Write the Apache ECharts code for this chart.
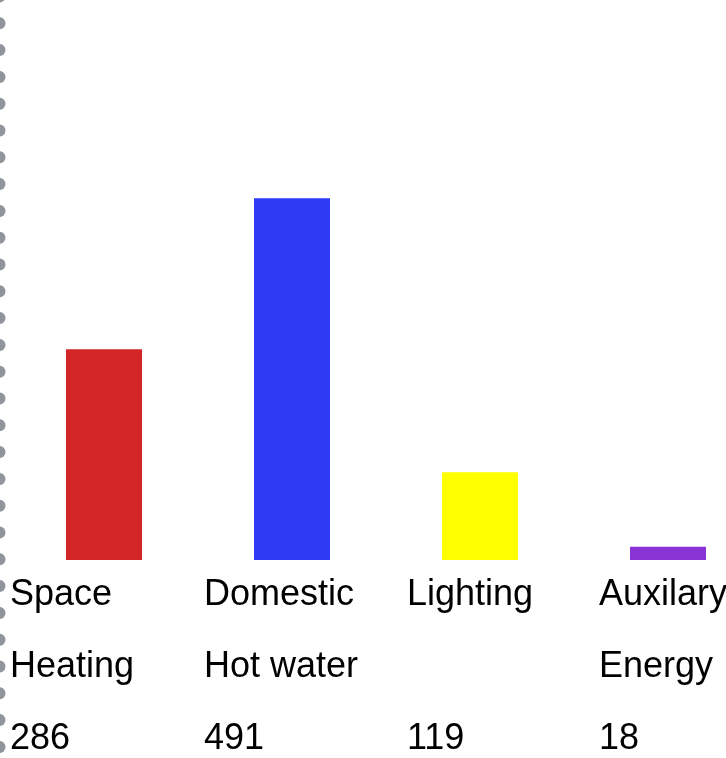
<!DOCTYPE html>
<html>
<head>
<meta charset="utf-8">
<script src="https://cdn.jsdelivr.net/npm/echarts@6/dist/echarts.min.js"></script>
<style>
  html, body { margin: 0; padding: 0; background: #ffffff; }
  #chart { width: 726px; height: 758px; }
</style>
</head>
<body>
<div id="chart"></div>
<script>
// Annual energy use by end use
const categories = ['Space Heating', 'Domestic Hot water', 'Lighting', 'Auxilary Energy'];
const labelLines = [['Space', 'Heating'], ['Domestic', 'Hot water'], ['Lighting', ''], ['Auxilary', 'Energy']];
const values = [286, 491, 119, 18];
const barColors = ['#d42626', '#2f3af4', '#ffff00', '#8b34d6'];

// horizontal shift of each label block from its bar centre
const labelShift = [-94, -88, -73, -69];

const chart = echarts.init(document.getElementById('chart'), null, { renderer: 'canvas' });

function buildDots() {
  const dots = [];
  for (let i = 0; i < 30; i++) {
    dots.push({
      type: 'circle',
      silent: true,
      shape: { cx: -0.5, cy: -3.5 + i * 26.8, r: 6 },
      style: { fill: '#8f959b' }
    });
  }
  return dots;
}

chart.setOption({
  animation: false,
  backgroundColor: '#ffffff',
  // the last column runs past the right edge of the page
  grid: { left: 10, width: 752, top: 0, bottom: 198, containLabel: false, outerBoundsMode: 'none' },
  xAxis: {
    type: 'category',
    data: categories,
    boundaryGap: true,
    axisLine: { show: false },
    axisTick: { show: false },
    axisLabel: { show: false },
    splitLine: { show: false }
  },
  yAxis: {
    type: 'value',
    min: 0,
    max: 760,
    show: false,
    splitLine: { show: false }
  },
  series: [{
    type: 'bar',
    barWidth: 76,
    data: values.map((v, i) => ({ value: v, itemStyle: { color: barColors[i] } }))
  }]
});

// category labels with their values, placed from the axis positions
const texts = categories.map((c, i) => {
  const x = chart.convertToPixel({ xAxisIndex: 0 }, c) + labelShift[i];
  return {
    type: 'text',
    silent: true,
    x: x,
    y: 559,
    style: {
      text: labelLines[i].concat([String(values[i])]).join('\n'),
      fontFamily: '"Liberation Sans", Arial, sans-serif',
      fontSize: 36,
      lineHeight: 72,
      fill: '#000000',
      align: 'left',
      verticalAlign: 'top'
    }
  };
});

chart.setOption({ graphic: buildDots().concat(texts) });
</script>
</body>
</html>
